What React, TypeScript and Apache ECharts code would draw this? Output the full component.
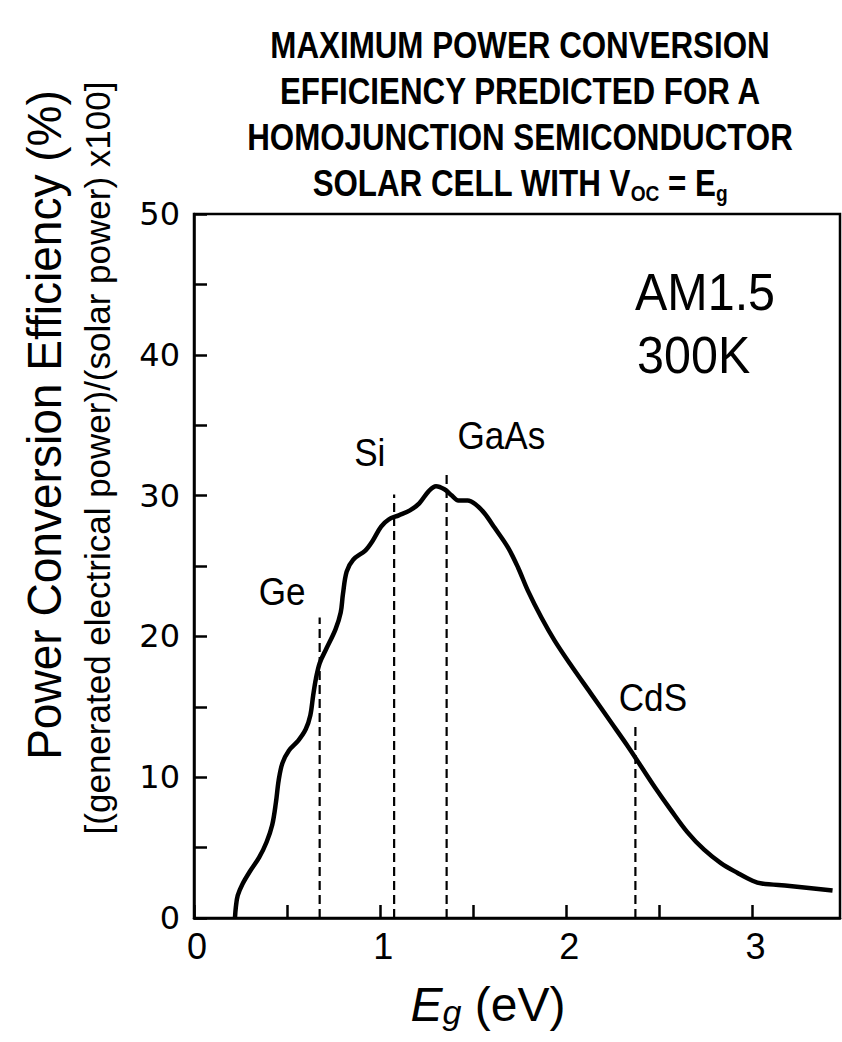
import React, { useEffect, useRef } from "react";
import * as echarts from "echarts";

// Curve: maximum efficiency vs band gap (AM1.5, 300 K)
const energyEv = [
  0.22, 0.225, 0.235, 0.26, 0.3, 0.35, 0.39, 0.42, 0.44, 0.455, 0.475, 0.51,
  0.56, 0.6, 0.625, 0.64, 0.655, 0.675, 0.71, 0.76, 0.788, 0.8, 0.82, 0.855,
  0.92, 0.96, 1.005, 1.045, 1.1, 1.16, 1.21, 1.26, 1.3, 1.345, 1.385, 1.42,
  1.47, 1.51, 1.56, 1.615, 1.687, 1.741, 1.794, 1.866, 1.937, 2.026, 2.133,
  2.24, 2.33, 2.4, 2.48, 2.56, 2.65, 2.74, 2.83, 2.92, 3.0, 3.05, 3.2, 3.43,
];
const efficiencyPct = [
  0, 0.8, 1.6, 2.4, 3.3, 4.3, 5.4, 6.6, 8.2, 9.8, 11.0, 11.9, 12.6, 13.4, 14.4,
  15.8, 17.0, 18.1, 19.1, 20.5, 21.7, 23.0, 24.6, 25.45, 26.1, 26.8, 27.8,
  28.3, 28.6, 28.95, 29.45, 30.3, 30.67, 30.45, 30.0, 29.65, 29.65, 29.4, 28.75,
  27.71, 26.3, 24.88, 23.23, 21.34, 19.7, 17.93, 15.92, 13.9, 12.2, 10.8, 9.2,
  7.7, 6.1, 4.85, 3.9, 3.2, 2.65, 2.45, 2.28, 1.95,
];

// Semiconductor band-gap markers
const materials = ["Ge", "Si", "GaAs", "CdS"];
const bandgapEv = [0.675, 1.075, 1.357, 2.371];
const markerTopPct = [21.35, 30.08, 31.78, 13.8];

// Axis ticks
const xTickLabels = ["0", "1", "2", "3"];
const yTickLabels = ["0", "10", "20", "30", "40", "50"];

// Annotation anchors (data coordinates)
const materialLabelEv = [0.473, 0.944, 1.651, 2.465];
const materialLabelPct = [23.18, 33.07, 34.26, 15.66];
const conditionLines = ["AM1.5", "300K"];
const conditionEv = [2.369, 2.38];
const conditionPct = [44.45, 39.95];

const titleLines = [
  "MAXIMUM POWER CONVERSION",
  "EFFICIENCY PREDICTED FOR A",
  "HOMOJUNCTION SEMICONDUCTOR",
];

const SANS = '"Liberation Sans", Arial, sans-serif';

export default function App() {
  const ref = useRef<HTMLDivElement>(null);

  useEffect(() => {
    if (!ref.current) return;
    const chart = echarts.init(ref.current, null, { renderer: "svg" });

    const curve = energyEv.map((x, i) => [x, efficiencyPct[i]]);
    const markerSeries = materials.map((m, i) => ({
      type: "line",
      name: m,
      data: [
        [bandgapEv[i], 0],
        [bandgapEv[i], markerTopPct[i]],
      ],
      symbol: "none",
      silent: true,
      z: 2,
      lineStyle: { color: "#000", width: 2.2, type: [9, 5] },
    }));

    chart.setOption({
      animation: false,
      backgroundColor: "#fff",
      grid: {
        left: 194,
        right: 2,
        top: 214,
        bottom: 124,
        show: true,
        borderColor: "#000",
        borderWidth: 2.5,
        backgroundColor: "transparent",
      },
      xAxis: {
        type: "value",
        min: 0,
        max: 3.47,
        interval: 0.5,
        axisLine: { show: true, lineStyle: { color: "#000", width: 2.5 } },
        axisTick: { show: true, inside: true, length: 13, lineStyle: { color: "#000", width: 2.5 } },
        splitLine: { show: false },
        axisLabel: {
          color: "#000",
          fontFamily: SANS,
          fontSize: 36,
          margin: 10,
          padding: [0, 0, 0, 6],
          showMaxLabel: false,
          formatter: (v: number) => {
            const s = String(Math.round(v * 100) / 100);
            return xTickLabels.includes(s) ? s : "";
          },
        },
      },
      yAxis: {
        type: "value",
        min: 0,
        max: 50,
        interval: 5,
        axisLine: { show: true, lineStyle: { color: "#000", width: 2.5 } },
        axisTick: { show: true, inside: true, length: 13, lineStyle: { color: "#000", width: 2.5 } },
        splitLine: { show: false },
        axisLabel: {
          color: "#000",
          fontFamily: '"DejaVu Sans", sans-serif',
          fontSize: 32,
          margin: 14,
          formatter: (v: number) => {
            const s = String(v);
            return yTickLabels.includes(s) ? s : "";
          },
        },
      },
      series: [
        ...markerSeries,
        {
          type: "line",
          name: "efficiency",
          data: curve,
          symbol: "none",
          smooth: 0.35,
          z: 3,
          lineStyle: { color: "#000", width: 4.5 },
        },
      ],
    });

    const toPx = (x: number, y: number) =>
      chart.convertToPixel({ gridIndex: 0 }, [x, y]) as number[];

    const graphics: any[] = [];
    titleLines.forEach((t, i) => {
      graphics.push({
        type: "text",
        x: 520,
        y: 45 + i * 46,
        scaleX: 0.87,
        style: {
          text: t,
          fontFamily: SANS,
          fontWeight: "bold",
          fontSize: 36,
          fill: "#000",
          textAlign: "center",
          textVerticalAlign: "middle",
        },
      });
    });
    graphics.push({
      type: "text",
      x: 520,
      y: 45 + 3 * 46,
      scaleX: 0.87,
      style: {
        text: "{a|SOLAR CELL WITH V}{s|OC}{a| = E}{s|g}",
        fill: "#000",
        textAlign: "center",
        textVerticalAlign: "middle",
        rich: {
          a: { fontFamily: SANS, fontWeight: "bold", fontSize: 36, lineHeight: 42, fill: "#000" },
          s: { fontFamily: SANS, fontWeight: "bold", fontSize: 22, lineHeight: 11, verticalAlign: "bottom", fill: "#000" },
        },
      },
    });

    // y-axis titles
    graphics.push({
      type: "text",
      x: 44,
      y: 425,
      rotation: Math.PI / 2,
      scaleX: 0.94,
      style: {
        text: "Power Conversion Efficiency (%)",
        fontFamily: SANS,
        fontSize: 49,
        fill: "#000",
        textAlign: "center",
        textVerticalAlign: "middle",
      },
    });
    graphics.push({
      type: "text",
      x: 97,
      y: 458,
      rotation: Math.PI / 2,
      style: {
        text: "[(generated electrical power)/(solar power) x100]",
        fontFamily: SANS,
        fontSize: 35,
        fill: "#000",
        textAlign: "center",
        textVerticalAlign: "middle",
      },
    });

    // x-axis title
    graphics.push({
      type: "text",
      x: 488,
      y: 1004,
      style: {
        text: "{e|E}{g|g}{t| (eV)}",
        textAlign: "center",
        textVerticalAlign: "middle",
        fill: "#000",
        rich: {
          e: { fontFamily: SANS, fontStyle: "italic", fontSize: 48, lineHeight: 50, fill: "#000" },
          g: { fontFamily: SANS, fontStyle: "italic", fontSize: 34, lineHeight: 12, verticalAlign: "bottom", fill: "#000" },
          t: { fontFamily: SANS, fontSize: 48, lineHeight: 50, fill: "#000" },
        },
      },
    });

    // material labels
    materials.forEach((m, i) => {
      const p = toPx(materialLabelEv[i], materialLabelPct[i]);
      graphics.push({
        type: "text",
        x: p[0],
        y: p[1],
        scaleX: 0.9,
        style: {
          text: m,
          fontFamily: SANS,
          fontSize: 39,
          fill: "#000",
          textAlign: "center",
          textVerticalAlign: "middle",
        },
      });
    });

    // condition labels
    conditionLines.forEach((t, i) => {
      const p = toPx(conditionEv[i], conditionPct[i]);
      graphics.push({
        type: "text",
        x: p[0],
        y: p[1],
        scaleX: 0.95,
        style: {
          text: t,
          fontFamily: SANS,
          fontSize: 51,
          fill: "#000",
          textAlign: "left",
          textVerticalAlign: "middle",
        },
      });
    });

    chart.setOption({ graphic: graphics });

    return () => chart.dispose();
  }, []);

  return (
    <div
      ref={ref}
      style={{ position: "fixed", left: 0, top: 0, width: 842, height: 1042 }}
    />
  );
}
